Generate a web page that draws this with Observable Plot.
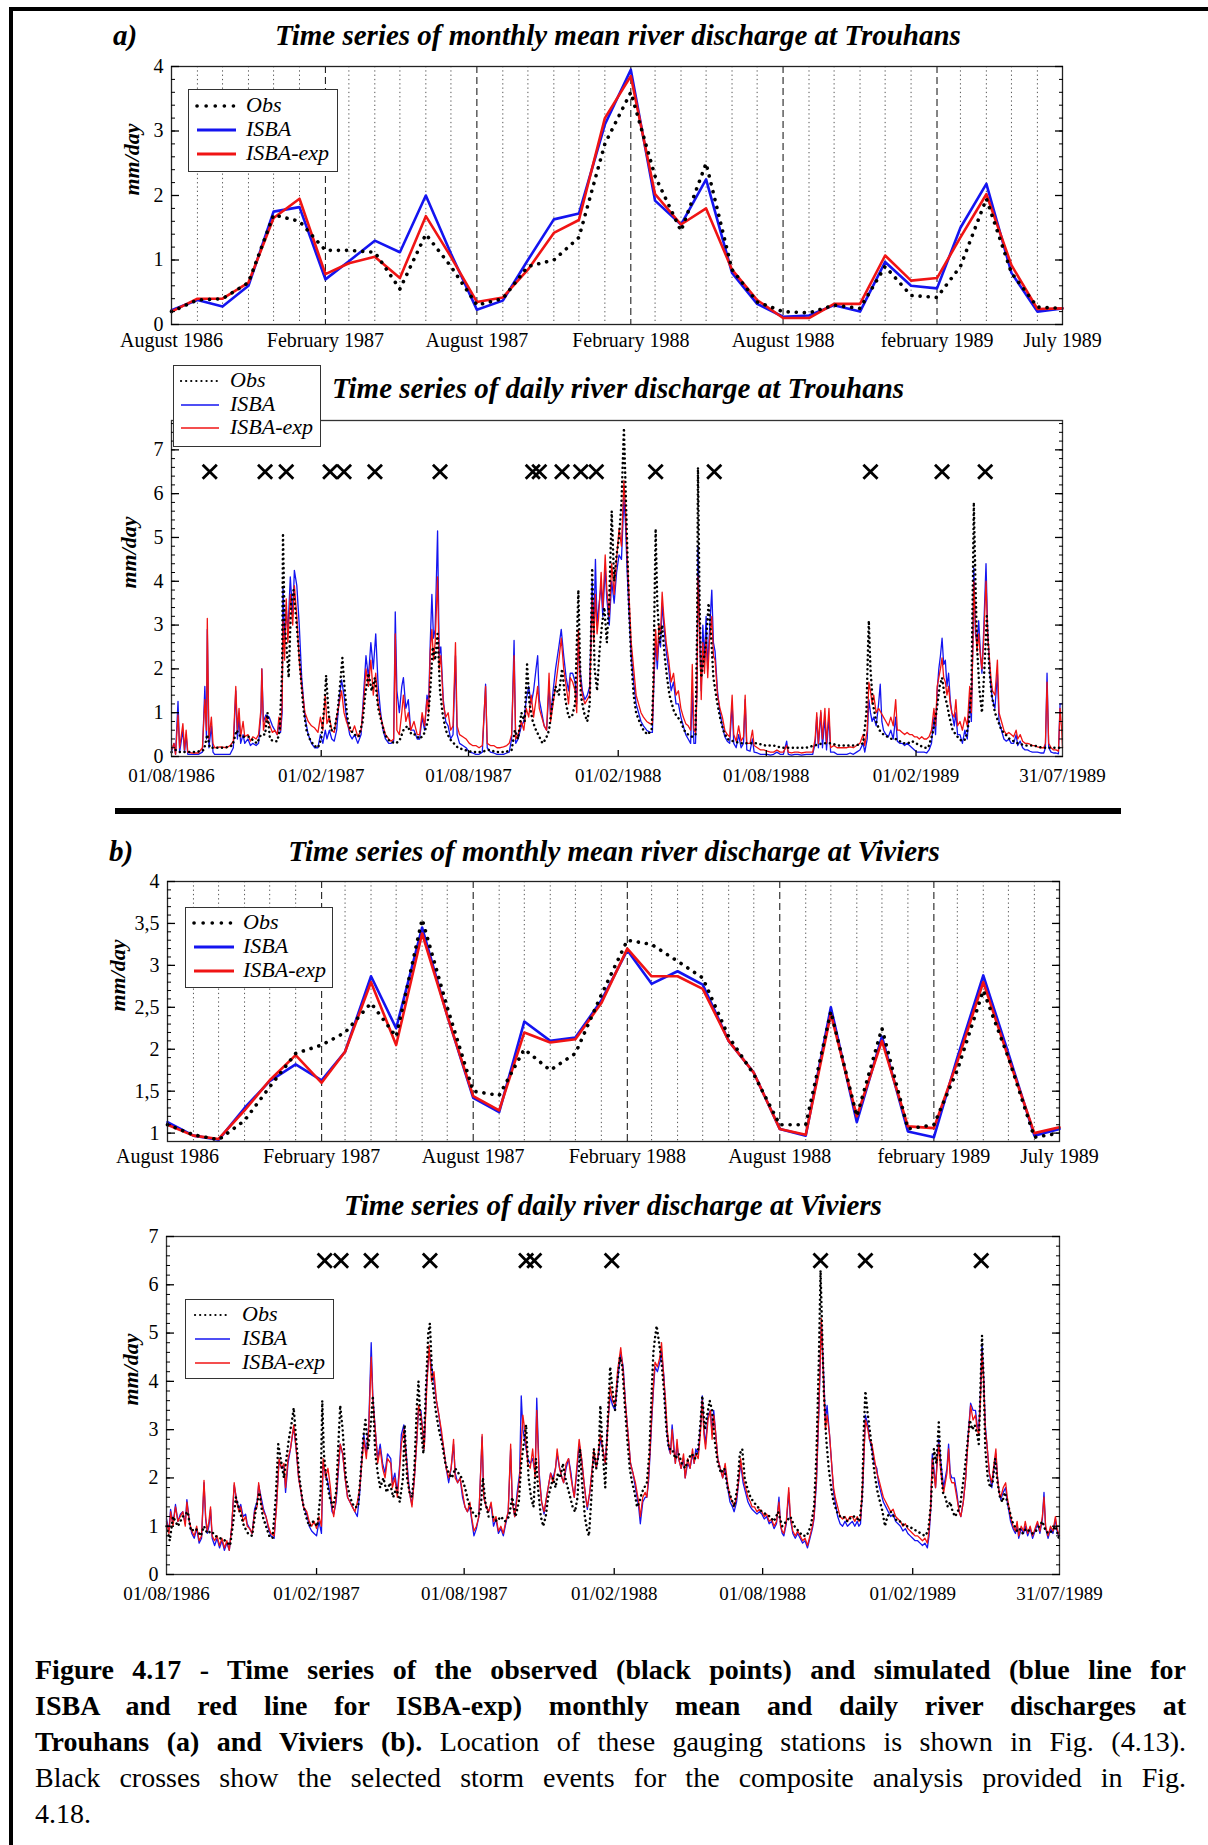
<!DOCTYPE html>
<html><head><meta charset="utf-8">
<script src="https://cdn.jsdelivr.net/npm/d3@7"></script>
<script src="https://cdn.jsdelivr.net/npm/@observablehq/plot@0.6"></script>
<style>
body{margin:0;background:#fff;}
#fig{position:relative;width:1208px;height:1845px;background:#fff;overflow:hidden;font-family:"Liberation Serif","Times New Roman",serif;color:#000;}
.abs{position:absolute;}
.title{position:absolute;font-weight:bold;font-style:italic;font-size:29px;white-space:nowrap;transform:translate(-50%,-50%);line-height:1;}
.lg{position:absolute;border:1.5px solid #333;background:#fff;box-sizing:border-box;}
.lg span{position:absolute;font-style:italic;font-size:22px;line-height:1;white-space:nowrap;}
.lg svg{position:absolute;}
#cap{position:absolute;left:35px;top:1652px;width:1151px;font-size:28px;line-height:36px;}
#cap div{text-align:justify;text-align-last:justify;white-space:nowrap;}
#cap div.last{text-align-last:left;}
</style></head>
<body><div id="fig"></div>
<script>
// ---------- DATA ----------
const monthLabels = ["August 1986","February 1987","August 1987","February 1988","August 1988","february 1989","July 1989"];
const monthLabelIdx = [0,6,12,18,24,30,35];
const dailyLabels = ["01/08/1986","01/02/1987","01/08/1987","01/02/1988","01/08/1988","01/02/1989","31/07/1989"];
const dailyLabelDates = ["1986-08-01","1987-02-01","1987-08-01","1988-02-01","1988-08-01","1989-02-01","1989-07-31"];

// Trouhans monthly (Aug 1986 .. Jul 1989)
const trouMonObs  = [0.2,0.38,0.4,0.65,1.7,1.6,1.15,1.15,1.12,0.55,1.4,0.9,0.3,0.4,0.9,1.0,1.35,2.8,3.6,2.3,1.45,2.5,0.85,0.35,0.2,0.18,0.3,0.25,0.9,0.45,0.42,0.9,1.95,0.8,0.27,0.25];
const trouMonIsba = [0.22,0.38,0.28,0.6,1.75,1.82,0.7,0.98,1.3,1.12,2.0,1.1,0.23,0.37,1.0,1.63,1.72,3.1,3.95,1.92,1.55,2.25,0.8,0.32,0.12,0.14,0.3,0.2,0.97,0.6,0.56,1.5,2.18,0.8,0.2,0.25];
const trouMonExp  = [0.2,0.4,0.4,0.65,1.65,1.95,0.78,0.95,1.05,0.72,1.68,1.05,0.35,0.42,0.85,1.42,1.62,3.2,3.85,2.02,1.55,1.8,0.85,0.38,0.1,0.1,0.32,0.32,1.07,0.68,0.72,1.35,2.02,0.92,0.24,0.25];

// Viviers monthly
const vivMonObs  = [1.1,0.98,0.92,1.15,1.55,1.95,2.05,2.2,2.55,2.15,3.55,2.5,1.5,1.45,2.0,1.75,1.95,2.65,3.3,3.25,3.05,2.85,2.15,1.7,1.1,1.1,2.45,1.2,2.25,1.05,1.1,1.75,2.7,1.9,0.95,1.0];
const vivMonIsba = [1.13,0.97,0.92,1.3,1.62,1.82,1.63,1.97,2.87,2.25,3.45,2.4,1.42,1.25,2.33,2.1,2.14,2.58,3.18,2.78,2.93,2.77,2.1,1.72,1.05,0.97,2.5,1.13,2.15,1.02,0.95,1.9,2.88,1.95,0.97,1.05];
const vivMonExp  = [1.1,0.97,0.93,1.27,1.63,1.93,1.6,1.97,2.8,2.05,3.38,2.4,1.44,1.27,2.2,2.08,2.12,2.55,3.2,2.87,2.87,2.72,2.1,1.72,1.05,0.98,2.42,1.2,2.1,1.08,1.06,1.85,2.8,1.9,1.0,1.07];

// Daily series: [day offset from 01/08/1986, mm/day]
const trouCrossDays = [47,115,141,195,212,250,330,444,452,480,503,522,595,667,859,947,1000];
const vivCrossDays  = [194,214,251,323,441,451,546,802,857,999];

const trouDayExp = [[0,0.15],[3,0.3],[5,0.05],[8,0.95],[10,0.2],[14,0.75],[16,0.15],[18,0.6],[20,0.1],[25,0.08],[33,0.08],[38,0.2],[41,1.3],[43,0.6],[44,3.15],[46,0.4],[49,0.9],[51,0.3],[53,0.2],[60,0.22],[68,0.2],[72,0.25],[76,0.35],[79,1.6],[81,0.6],[83,1.1],[85,0.45],[88,0.8],[90,0.45],[94,0.5],[97,0.35],[100,0.45],[104,0.4],[107,0.5],[110,1.1],[111,2.0],[113,0.6],[116,0.9],[120,0.75],[124,0.55],[127,0.6],[130,0.5],[132,0.9],[134,0.6],[136,1.2],[137,3.1],[139,2.2],[141,3.6],[143,2.6],[146,3.7],[149,3.0],[151,3.9],[154,3.2],[157,2.2],[160,1.6],[164,1.0],[168,0.8],[172,0.7],[176,0.65],[180,0.55],[183,0.9],[186,0.6],[189,1.4],[191,0.75],[194,0.9],[197,0.6],[200,0.55],[203,0.9],[206,1.2],[209,1.5],[212,1.0],[215,0.8],[219,0.6],[222,0.55],[225,0.7],[229,0.45],[233,0.6],[236,1.2],[239,2.0],[242,1.6],[245,2.2],[248,1.4],[251,1.9],[254,1.2],[257,0.9],[260,0.7],[263,0.5],[267,0.4],[270,0.35],[273,0.4],[275,2.8],[277,0.6],[280,0.5],[283,1.0],[285,1.4],[288,0.8],[291,1.0],[294,0.6],[298,0.8],[302,0.5],[305,0.5],[308,1.0],[311,0.7],[314,1.3],[316,1.0],[318,2.4],[320,2.9],[322,2.2],[324,2.6],[327,4.1],[329,2.0],[331,2.3],[334,1.2],[337,0.9],[340,1.0],[343,0.6],[346,0.7],[349,2.6],[351,0.7],[354,0.5],[358,0.45],[362,0.4],[366,0.3],[370,0.25],[374,0.25],[378,0.2],[382,0.25],[386,1.6],[388,0.3],[392,0.25],[396,0.25],[400,0.2],[404,0.2],[408,0.22],[412,0.25],[415,0.3],[418,0.5],[421,2.3],[423,0.4],[426,0.5],[430,0.8],[433,0.6],[436,1.1],[439,0.9],[442,1.4],[445,0.9],[448,1.3],[450,1.6],[452,1.1],[455,0.9],[458,0.7],[461,0.6],[464,1.9],[466,0.8],[469,1.2],[472,1.6],[476,2.2],[479,2.7],[482,2.0],[485,1.6],[488,1.2],[490,1.8],[493,1.7],[496,1.5],[498,1.0],[500,2.9],[502,1.8],[505,1.4],[508,1.2],[511,1.3],[514,1.4],[517,3.6],[519,2.6],[521,3.7],[523,2.8],[525,3.2],[528,4.2],[530,3.4],[533,4.6],[535,3.8],[538,3.2],[541,4.4],[544,3.7],[547,4.5],[550,5.2],[553,4.8],[556,6.3],[558,5.6],[560,4.6],[562,3.8],[565,2.6],[568,2.0],[571,1.4],[574,1.2],[577,1.0],[580,0.9],[584,0.8],[588,0.75],[591,0.75],[593,2.0],[595,2.9],[597,2.2],[599,3.0],[601,2.8],[603,3.75],[605,3.2],[608,2.6],[611,2.2],[614,1.7],[617,1.9],[620,1.4],[623,1.5],[626,1.1],[629,0.9],[632,0.75],[635,0.7],[638,0.6],[640,2.1],[642,0.6],[644,0.55],[646,1.5],[647,4.1],[649,3.0],[651,1.3],[653,2.6],[655,1.9],[657,2.7],[659,1.8],[661,2.6],[664,3.2],[666,2.3],[668,2.2],[671,1.4],[674,1.1],[677,0.9],[680,0.6],[683,0.5],[686,0.45],[689,1.4],[691,0.5],[694,0.35],[697,0.7],[700,0.35],[703,0.45],[705,1.4],[707,0.3],[711,0.3],[714,0.6],[716,0.25],[720,0.2],[724,0.15],[728,0.15],[732,0.12],[736,0.1],[740,0.1],[744,0.15],[748,0.1],[752,0.1],[756,0.25],[758,0.1],[762,0.08],[766,0.1],[770,0.1],[774,0.08],[780,0.1],[784,0.1],[788,0.1],[791,0.4],[793,1.0],[795,0.3],[798,1.05],[800,0.4],[803,1.1],[805,0.3],[808,1.1],[810,0.2],[814,0.25],[818,0.2],[822,0.2],[826,0.2],[830,0.2],[834,0.22],[838,0.2],[842,0.25],[846,0.3],[850,0.5],[852,0.25],[855,0.6],[857,1.7],[859,1.5],[861,1.2],[863,1.4],[866,1.0],[869,1.1],[872,1.0],[875,0.9],[878,0.8],[881,0.7],[884,0.9],[887,0.7],[890,1.3],[892,0.6],[895,0.6],[898,0.55],[901,0.5],[904,0.55],[907,0.5],[910,0.5],[913,0.45],[916,0.45],[919,0.4],[922,0.45],[925,0.4],[928,0.4],[931,0.45],[934,0.6],[937,1.1],[939,0.7],[941,1.6],[943,1.8],[945,2.0],[947,2.25],[949,1.8],[951,1.7],[953,1.4],[955,1.6],[957,1.2],[959,1.0],[962,0.9],[964,1.3],[966,0.7],[969,0.8],[972,0.6],[975,0.9],[978,0.7],[981,1.6],[983,1.0],[985,2.6],[986,4.0],[988,3.0],[990,2.4],[992,2.8],[994,2.3],[996,2.0],[998,2.6],[1001,4.0],[1003,2.8],[1005,2.3],[1007,1.8],[1009,1.5],[1012,1.4],[1015,2.2],[1017,1.0],[1020,0.8],[1023,0.6],[1026,0.5],[1029,0.55],[1032,0.5],[1035,0.45],[1038,0.6],[1040,0.4],[1043,0.5],[1046,0.35],[1049,0.3],[1052,0.3],[1055,0.28],[1058,0.25],[1061,0.25],[1064,0.22],[1068,0.2],[1072,0.2],[1074,0.3],[1076,1.7],[1078,0.3],[1081,0.2],[1084,0.15],[1087,0.15],[1090,0.12],[1092,1.1],[1094,0.6],[1095,0.2]];

const trouDayIsba = [[0,0.1],[3,0.3],[5,0.05],[8,1.26],[10,0.1],[14,0.6],[16,0.1],[18,0.5],[20,0.05],[25,0.05],[33,0.05],[38,0.1],[41,1.6],[43,0.4],[44,2.9],[46,0.2],[49,0.7],[51,0.1],[53,0.05],[60,0.05],[68,0.05],[72,0.05],[76,0.2],[79,1.5],[81,0.4],[83,0.9],[85,0.3],[88,0.5],[90,0.3],[94,0.4],[97,0.25],[100,0.3],[104,0.25],[107,0.3],[110,1.0],[111,2.0],[113,0.8],[116,0.95],[120,0.9],[124,0.7],[127,0.6],[130,0.5],[132,0.75],[134,0.55],[136,1.0],[137,3.85],[139,2.6],[141,3.4],[143,2.8],[146,4.1],[149,3.2],[151,4.25],[154,3.9],[157,3.0],[160,1.8],[164,0.9],[168,0.5],[172,0.3],[176,0.2],[180,0.2],[183,0.5],[186,0.3],[189,0.6],[191,0.4],[194,0.6],[197,0.4],[200,0.35],[203,0.6],[206,1.3],[209,1.75],[212,1.4],[215,0.9],[219,0.5],[222,0.4],[225,0.5],[229,0.3],[233,0.5],[236,1.4],[239,2.3],[242,1.8],[245,2.6],[248,2.0],[251,2.8],[254,1.6],[257,1.0],[260,0.6],[263,0.4],[267,0.3],[270,0.3],[273,0.35],[275,3.3],[277,1.5],[280,1.0],[283,1.6],[285,1.8],[288,1.1],[291,1.3],[294,0.6],[298,0.6],[302,0.4],[305,0.4],[308,0.9],[311,0.6],[314,1.4],[316,1.2],[318,2.6],[320,3.7],[322,2.7],[324,2.9],[327,5.15],[329,2.3],[331,2.5],[334,1.3],[337,0.8],[340,0.7],[343,0.4],[346,0.5],[349,2.3],[351,0.5],[354,0.3],[358,0.25],[362,0.2],[366,0.1],[370,0.08],[374,0.05],[378,0.05],[382,0.1],[386,1.65],[388,0.2],[392,0.1],[396,0.08],[400,0.05],[404,0.05],[408,0.05],[412,0.08],[415,0.1],[418,0.4],[421,2.65],[423,0.3],[426,0.4],[430,0.7],[433,0.8],[436,1.3],[439,1.6],[442,1.2],[445,1.5],[448,2.0],[450,2.3],[452,1.3],[455,1.0],[458,0.7],[461,0.6],[464,1.6],[466,0.9],[469,1.5],[472,2.0],[476,2.5],[479,2.9],[482,2.3],[485,1.8],[488,1.5],[490,1.9],[493,1.9],[496,1.7],[498,1.2],[500,2.6],[502,2.0],[505,1.5],[508,1.3],[511,1.4],[514,1.6],[517,4.0],[519,2.8],[521,4.5],[523,3.0],[525,3.4],[528,3.9],[530,3.2],[533,4.3],[535,3.6],[538,3.0],[541,4.0],[544,3.5],[547,4.2],[550,4.6],[553,4.5],[556,5.9],[558,5.3],[560,4.2],[562,3.4],[565,2.3],[568,1.7],[571,1.2],[574,1.0],[577,0.8],[580,0.7],[584,0.6],[588,0.55],[591,0.55],[593,1.8],[595,2.6],[597,2.0],[599,2.7],[601,2.5],[603,3.5],[605,3.0],[608,2.4],[611,2.0],[614,1.5],[617,1.7],[620,1.2],[623,1.2],[626,0.9],[629,0.7],[632,0.5],[635,0.4],[638,0.3],[640,1.5],[642,0.3],[644,0.3],[646,1.8],[647,4.8],[649,2.8],[651,1.5],[653,3.0],[655,2.2],[657,3.2],[659,2.0],[661,2.8],[664,3.8],[666,2.6],[668,2.4],[671,1.5],[674,1.0],[677,0.7],[680,0.45],[683,0.35],[686,0.3],[689,1.2],[691,0.3],[694,0.2],[697,0.5],[700,0.2],[703,0.3],[705,1.3],[707,0.15],[711,0.12],[714,0.4],[716,0.1],[720,0.08],[724,0.05],[728,0.05],[732,0.05],[736,0.03],[740,0.05],[744,0.1],[748,0.05],[752,0.05],[756,0.35],[758,0.05],[762,0.03],[766,0.05],[770,0.05],[774,0.03],[780,0.05],[784,0.05],[788,0.05],[791,0.3],[793,0.9],[795,0.2],[798,1.0],[800,0.2],[803,0.9],[805,0.15],[808,0.9],[810,0.1],[814,0.1],[818,0.05],[822,0.05],[826,0.05],[830,0.05],[834,0.08],[838,0.05],[842,0.1],[846,0.15],[850,0.3],[852,0.1],[855,0.4],[857,1.3],[859,1.0],[861,0.8],[863,0.9],[866,0.7],[869,1.2],[871,1.65],[873,0.8],[875,0.6],[878,0.5],[881,0.45],[884,0.6],[887,0.4],[890,0.9],[892,0.35],[895,0.3],[898,0.3],[901,0.25],[904,0.3],[907,0.25],[910,0.2],[913,0.15],[916,0.1],[919,0.1],[922,0.1],[925,0.1],[928,0.08],[931,0.15],[934,0.3],[937,0.9],[939,0.5],[941,1.5],[943,2.0],[945,2.3],[947,2.7],[949,2.1],[951,2.2],[953,1.6],[955,1.9],[957,1.3],[959,1.0],[962,0.7],[964,1.0],[966,0.5],[969,0.5],[972,0.3],[975,0.6],[978,0.4],[981,1.3],[983,0.8],[985,2.8],[986,4.3],[988,2.8],[990,2.6],[992,3.1],[994,2.4],[996,1.9],[998,2.8],[1001,4.4],[1003,2.9],[1005,2.2],[1007,1.6],[1009,1.3],[1012,1.1],[1015,1.9],[1017,0.8],[1020,0.6],[1023,0.4],[1026,0.35],[1029,0.4],[1032,0.3],[1035,0.3],[1038,0.5],[1040,0.25],[1043,0.35],[1046,0.2],[1049,0.15],[1052,0.15],[1055,0.12],[1058,0.1],[1061,0.1],[1064,0.1],[1068,0.08],[1072,0.08],[1074,0.2],[1076,1.9],[1078,0.2],[1081,0.1],[1084,0.08],[1087,0.08],[1090,0.06],[1092,1.2],[1094,1.2],[1095,1.2]];

const trouDayObs = [[0,0.1],[5,0.15],[10,0.1],[20,0.1],[30,0.1],[40,0.15],[44,0.5],[47,0.2],[55,0.2],[65,0.2],[75,0.25],[80,0.6],[85,0.45],[95,0.45],[105,0.3],[110,0.5],[115,0.5],[118,1.0],[121,0.4],[125,0.35],[130,0.35],[133,0.6],[136,2.0],[137,5.1],[139,3.0],[141,2.6],[144,1.8],[147,3.5],[150,3.8],[153,3.2],[156,2.5],[159,1.8],[162,1.1],[166,0.6],[170,0.4],[175,0.25],[180,0.2],[184,0.4],[188,1.2],[190,1.85],[193,1.0],[196,0.6],[200,0.6],[204,1.0],[207,1.6],[210,2.25],[213,1.5],[216,0.9],[220,0.6],[225,0.5],[230,0.45],[235,0.8],[238,1.4],[242,1.9],[246,1.5],[250,1.8],[254,1.1],[258,0.8],[262,0.5],[268,0.35],[275,0.3],[280,0.35],[285,0.6],[290,0.7],[295,0.5],[300,0.5],[305,0.4],[310,0.5],[315,0.8],[318,1.5],[321,2.5],[324,2.2],[327,2.8],[330,1.5],[333,1.0],[337,0.6],[342,0.4],[347,0.3],[352,0.2],[360,0.15],[370,0.1],[380,0.1],[390,0.15],[400,0.1],[410,0.1],[418,0.15],[422,0.6],[426,0.4],[430,1.0],[434,0.8],[437,2.1],[440,1.2],[444,0.8],[448,0.6],[452,0.45],[456,0.3],[460,0.4],[464,0.6],[468,1.2],[472,1.6],[476,1.4],[480,2.0],[484,1.3],[488,0.9],[492,0.9],[496,1.2],[500,3.8],[503,1.4],[507,1.0],[511,0.8],[514,1.2],[517,4.3],[520,2.0],[523,1.5],[526,2.4],[529,3.0],[532,3.4],[535,2.6],[538,3.6],[541,5.6],[544,4.0],[547,4.6],[550,5.0],[553,5.8],[556,7.5],[559,5.5],[562,3.5],[565,2.2],[568,1.4],[571,1.0],[575,0.8],[580,0.6],[585,0.5],[590,0.6],[592,1.5],[594,4.0],[595,5.2],[597,3.5],[600,2.6],[603,3.0],[606,2.3],[609,1.8],[612,1.4],[615,1.2],[618,1.0],[622,0.9],[626,0.8],[630,0.6],[635,0.5],[640,0.45],[644,0.5],[646,3.0],[647,6.6],[649,3.5],[651,1.8],[654,2.2],[657,2.6],[660,3.5],[663,2.8],[666,1.8],[670,1.3],[674,0.9],[678,0.6],[683,0.4],[690,0.35],[700,0.3],[710,0.3],[720,0.3],[730,0.25],[740,0.25],[750,0.2],[760,0.2],[770,0.2],[780,0.2],[790,0.25],[800,0.3],[810,0.3],[820,0.25],[830,0.25],[840,0.25],[850,0.3],[854,1.0],[856,2.5],[857,3.1],[859,2.0],[862,1.2],[866,0.8],[870,0.6],[875,0.5],[880,0.45],[885,0.4],[890,0.4],[895,0.35],[900,0.3],[905,0.3],[910,0.35],[915,0.3],[920,0.25],[925,0.2],[930,0.2],[935,0.5],[940,1.0],[944,1.6],[947,1.8],[950,1.4],[953,1.2],[956,0.9],[960,0.6],[964,0.5],[968,0.4],[972,0.35],[976,0.4],[980,0.8],[983,1.5],[985,4.2],[986,5.8],[988,4.0],[990,2.5],[993,1.5],[996,1.0],[999,2.0],[1002,3.2],[1005,2.0],[1008,1.4],[1012,1.0],[1016,0.8],[1020,0.6],[1025,0.5],[1030,0.4],[1035,0.35],[1040,0.3],[1050,0.25],[1060,0.25],[1070,0.2],[1080,0.2],[1090,0.2],[1095,0.2]];

const vivDayExp = [[0,1.1],[3,0.85],[5,1.3],[8,1.0],[11,1.4],[14,1.1],[17,1.2],[20,1.3],[23,1.0],[25,1.5],[28,1.1],[31,0.9],[34,0.8],[37,1.0],[40,0.7],[43,0.8],[46,1.95],[48,1.2],[50,0.9],[52,1.1],[54,1.4],[56,0.8],[59,0.7],[62,0.8],[65,0.6],[68,0.75],[71,0.55],[74,0.7],[77,0.5],[80,1.0],[83,1.9],[86,1.5],[89,1.3],[91,1.4],[94,1.1],[97,1.2],[99,1.0],[102,0.95],[105,0.85],[108,1.3],[111,1.4],[113,1.9],[116,1.5],[119,1.3],[122,1.2],[125,1.0],[128,0.85],[132,0.8],[135,1.4],[138,2.4],[141,2.2],[144,2.3],[146,1.8],[149,2.4],[152,2.6],[156,3.1],[159,2.6],[162,2.0],[165,1.7],[168,1.4],[172,1.3],[175,1.1],[178,1.0],[181,1.1],[184,0.95],[187,1.2],[190,1.0],[192,2.4],[195,2.0],[198,2.2],[201,1.8],[203,1.4],[205,1.2],[208,1.6],[211,2.3],[213,2.7],[216,2.5],[219,2.0],[222,1.6],[225,1.5],[228,1.4],[231,1.3],[234,1.5],[237,1.8],[239,2.2],[242,2.8],[245,2.4],[248,3.0],[251,4.5],[253,3.6],[256,3.0],[259,2.3],[262,2.6],[265,2.2],[268,2.0],[271,2.4],[275,2.3],[277,1.8],[280,2.0],[283,1.6],[286,2.2],[288,2.7],[291,3.0],[294,2.4],[297,1.8],[299,1.6],[301,1.4],[304,2.0],[307,2.8],[309,3.5],[312,3.3],[314,3.0],[316,2.6],[319,3.8],[322,4.75],[325,4.0],[328,4.2],[331,3.6],[334,3.3],[337,3.0],[340,2.6],[343,2.2],[346,2.0],[349,2.2],[352,2.8],[354,2.0],[357,1.9],[360,2.0],[363,1.7],[366,1.4],[369,1.3],[372,1.5],[374,1.2],[377,0.9],[380,1.0],[383,1.2],[387,2.9],[389,1.6],[392,1.4],[395,1.3],[398,1.5],[401,1.1],[404,1.2],[407,0.9],[410,1.0],[413,0.85],[416,1.1],[419,1.3],[422,2.7],[424,1.5],[427,1.2],[430,1.6],[433,2.0],[435,2.7],[437,3.3],[440,2.9],[443,2.3],[446,2.2],[449,2.6],[452,2.0],[454,3.4],[457,2.0],[460,1.5],[463,1.3],[466,1.6],[469,1.9],[471,2.1],[474,1.9],[477,2.2],[479,2.6],[482,2.2],[485,2.0],[487,1.9],[490,2.3],[493,2.4],[496,2.0],[498,1.8],[500,1.6],[503,2.2],[506,2.8],[509,2.4],[512,1.9],[514,1.6],[516,1.4],[519,1.7],[522,2.2],[524,2.6],[527,2.2],[530,2.6],[532,2.9],[535,2.6],[538,2.3],[541,3.0],[544,3.9],[547,3.6],[550,3.5],[553,4.2],[557,4.7],[560,4.2],[563,3.5],[566,2.9],[569,2.3],[572,2.1],[575,1.9],[577,1.7],[579,1.5],[581,1.2],[584,1.6],[587,1.7],[589,1.6],[591,2.0],[593,2.6],[595,3.3],[597,3.9],[599,4.4],[602,4.3],[605,4.5],[607,4.8],[610,4.0],[612,3.6],[614,3.0],[616,2.7],[618,2.5],[620,3.0],[622,2.6],[624,2.3],[626,2.8],[628,2.4],[631,2.2],[634,2.5],[636,2.0],[639,2.4],[642,2.2],[645,2.6],[647,2.3],[649,2.5],[652,2.4],[655,3.0],[657,3.6],[659,2.9],[661,2.6],[664,3.2],[667,3.4],[669,2.8],[671,3.3],[673,3.0],[676,2.4],[679,2.2],[682,2.0],[685,2.3],[688,1.9],[691,1.6],[694,1.5],[696,1.4],[699,1.6],[702,2.0],[704,2.4],[707,2.0],[710,1.8],[713,1.6],[716,1.5],[718,1.4],[721,1.4],[724,1.3],[727,1.35],[730,1.3],[733,1.2],[736,1.25],[739,1.1],[742,1.15],[745,1.0],[748,1.1],[751,1.5],[753,1.0],[755,0.9],[757,0.85],[760,1.1],[763,1.8],[765,1.2],[768,0.9],[771,0.8],[774,0.9],[777,0.8],[780,0.7],[783,0.75],[786,0.6],[789,0.8],[792,1.0],[794,1.2],[797,2.0],[800,3.5],[803,5.3],[805,4.3],[808,3.0],[810,3.3],[813,2.9],[816,2.2],[818,1.8],[820,1.6],[823,1.4],[826,1.2],[829,1.15],[832,1.2],[835,1.1],[838,1.2],[841,1.2],[844,1.1],[847,1.2],[849,1.1],[851,1.15],[854,2.0],[857,3.2],[860,3.0],[862,2.8],[865,2.7],[868,2.4],[871,2.1],[873,2.0],[876,1.8],[879,1.6],[882,1.5],[885,1.4],[888,1.3],[891,1.35],[894,1.2],[897,1.15],[900,1.1],[903,1.0],[906,1.05],[909,0.95],[912,0.9],[915,0.85],[918,0.8],[921,0.8],[924,0.75],[927,0.7],[930,0.75],[933,0.65],[935,0.9],[937,1.4],[939,2.4],[941,2.1],[943,1.8],[945,2.3],[947,2.7],[949,2.2],[951,1.9],[953,1.7],[955,1.9],[957,2.1],[959,2.6],[961,2.0],[963,1.9],[966,1.9],[969,1.6],[972,1.3],[974,1.2],[977,1.5],[980,2.0],[983,2.8],[986,3.5],[989,3.2],[992,3.3],[994,3.0],[996,2.9],[998,3.6],[1000,4.6],[1002,4.0],[1004,3.0],[1006,2.7],[1009,2.1],[1012,1.9],[1014,2.2],[1017,2.6],[1019,2.0],[1021,1.7],[1023,1.6],[1026,1.8],[1029,1.9],[1031,1.6],[1033,1.4],[1035,1.2],[1038,1.0],[1041,0.9],[1043,1.1],[1045,0.8],[1048,1.0],[1051,0.9],[1053,1.1],[1056,0.85],[1059,1.0],[1062,0.8],[1065,0.95],[1068,1.1],[1071,0.9],[1074,1.2],[1076,1.6],[1078,1.0],[1081,0.8],[1084,1.0],[1087,0.9],[1090,1.2],[1092,0.95],[1095,0.8]];

const vivDayIsba = [[0,1.15],[3,0.9],[5,1.35],[8,1.05],[11,1.45],[14,1.1],[17,1.25],[20,1.3],[23,1.05],[25,1.55],[28,1.1],[31,0.85],[34,0.75],[37,0.95],[40,0.65],[43,0.75],[46,1.9],[48,1.15],[50,0.85],[52,1.0],[54,1.35],[56,0.75],[59,0.6],[62,0.75],[65,0.55],[68,0.7],[71,0.5],[74,0.65],[77,0.5],[80,1.0],[83,1.85],[86,1.55],[89,1.35],[91,1.45],[94,1.2],[97,1.25],[99,1.05],[102,0.95],[105,0.85],[108,1.35],[111,1.5],[113,1.85],[116,1.6],[119,1.35],[122,1.2],[125,0.95],[128,0.8],[132,0.75],[135,1.5],[138,2.35],[141,2.2],[144,2.25],[146,1.7],[149,2.3],[152,2.6],[156,3.05],[159,2.6],[162,2.0],[165,1.7],[168,1.4],[172,1.25],[175,1.0],[178,0.9],[181,0.85],[184,0.8],[187,1.1],[190,0.85],[192,2.3],[195,2.1],[198,1.9],[201,1.6],[203,1.3],[205,1.25],[208,1.5],[211,2.2],[213,2.7],[216,2.5],[219,2.0],[222,1.6],[225,1.5],[228,1.4],[231,1.3],[234,1.2],[237,1.7],[239,2.3],[242,2.9],[245,2.5],[248,3.1],[251,4.8],[253,3.7],[256,3.0],[259,2.4],[262,2.7],[265,2.3],[268,2.1],[271,2.5],[275,2.4],[277,1.9],[280,2.1],[283,1.7],[286,2.3],[288,2.9],[291,3.1],[294,2.5],[297,1.9],[299,1.6],[301,1.45],[304,2.0],[307,2.8],[309,3.4],[312,3.4],[314,3.0],[316,2.6],[319,4.0],[322,4.6],[325,4.3],[328,4.0],[331,3.6],[334,3.3],[337,2.9],[340,2.6],[343,2.2],[346,1.9],[349,2.2],[352,2.7],[354,2.1],[357,1.9],[360,2.0],[363,1.6],[366,1.4],[369,1.3],[372,1.4],[374,1.15],[377,0.8],[380,0.95],[383,1.2],[387,2.85],[389,1.6],[392,1.4],[395,1.3],[398,1.45],[401,1.0],[404,1.15],[407,0.85],[410,0.95],[413,0.8],[416,1.05],[419,1.3],[422,2.6],[424,1.5],[427,1.2],[430,1.7],[433,2.1],[435,3.7],[437,3.0],[440,2.7],[443,2.4],[446,2.3],[449,2.4],[452,2.1],[454,3.65],[457,2.1],[460,1.5],[463,1.25],[466,1.6],[469,1.9],[471,2.1],[474,2.0],[477,2.2],[479,2.5],[482,2.2],[485,2.0],[487,1.9],[490,2.2],[493,2.4],[496,2.1],[498,1.8],[500,1.6],[503,2.1],[506,2.7],[509,2.4],[512,1.9],[514,1.6],[516,1.35],[519,1.7],[522,2.2],[524,2.5],[527,2.2],[530,2.5],[532,2.8],[535,2.6],[538,2.3],[541,3.1],[544,3.7],[547,3.5],[550,3.4],[553,4.0],[557,4.6],[560,4.3],[563,3.5],[566,2.9],[569,2.3],[572,2.1],[575,1.8],[577,1.6],[579,1.4],[581,1.05],[584,1.5],[587,1.6],[589,1.6],[591,1.9],[593,2.5],[595,3.2],[597,3.8],[599,4.3],[602,4.2],[605,4.4],[607,4.6],[610,4.1],[612,3.4],[614,2.9],[616,2.6],[618,2.5],[620,3.1],[622,2.7],[624,2.3],[626,2.7],[628,2.4],[631,2.2],[634,2.4],[636,2.0],[639,2.3],[642,2.2],[645,2.5],[647,2.3],[649,2.6],[652,2.5],[655,3.1],[657,3.7],[659,3.0],[661,2.7],[664,3.3],[667,3.4],[669,2.9],[671,3.4],[673,3.0],[676,2.4],[679,2.2],[682,2.0],[685,2.2],[688,1.8],[691,1.5],[694,1.4],[696,1.3],[699,1.5],[702,2.0],[704,2.3],[707,1.9],[710,1.7],[713,1.5],[716,1.4],[718,1.35],[721,1.3],[724,1.25],[727,1.3],[730,1.25],[733,1.15],[736,1.2],[739,1.05],[742,1.1],[745,0.95],[748,1.05],[751,1.6],[753,1.0],[755,0.85],[757,0.8],[760,1.05],[763,1.7],[765,1.15],[768,0.85],[771,0.75],[774,0.85],[777,0.75],[780,0.65],[783,0.7],[786,0.55],[789,0.75],[792,0.95],[794,1.15],[797,1.9],[800,3.4],[803,5.2],[805,4.5],[808,3.2],[810,3.5],[813,2.9],[816,2.2],[818,1.7],[820,1.5],[823,1.2],[826,1.05],[829,1.0],[832,1.1],[835,1.0],[838,1.05],[841,1.1],[844,1.0],[847,1.1],[849,1.0],[851,1.05],[854,1.9],[857,3.3],[860,3.1],[862,2.8],[865,2.6],[868,2.3],[871,2.2],[873,1.9],[876,1.7],[879,1.5],[882,1.4],[885,1.3],[888,1.2],[891,1.25],[894,1.1],[897,1.05],[900,1.0],[903,0.9],[906,0.95],[909,0.85],[912,0.8],[915,0.75],[918,0.7],[921,0.7],[924,0.65],[927,0.6],[930,0.65],[933,0.55],[935,0.8],[937,1.3],[939,2.5],[941,2.2],[943,1.8],[945,2.4],[947,2.8],[949,2.4],[951,2.1],[953,1.8],[955,2.0],[957,2.2],[959,2.7],[961,2.1],[963,2.0],[966,2.0],[969,1.7],[972,1.3],[974,1.2],[977,1.5],[980,2.0],[983,2.9],[986,3.55],[989,3.4],[992,3.4],[994,3.1],[996,3.0],[998,3.7],[1000,4.75],[1002,4.1],[1004,3.1],[1006,2.7],[1009,2.1],[1012,1.8],[1014,2.1],[1017,2.5],[1019,2.0],[1021,1.7],[1023,1.55],[1026,1.7],[1029,1.8],[1031,1.5],[1033,1.3],[1035,1.1],[1038,0.95],[1041,0.85],[1043,1.05],[1045,0.75],[1048,0.95],[1051,0.85],[1053,1.0],[1056,0.8],[1059,0.95],[1062,0.75],[1065,0.9],[1068,1.05],[1071,0.85],[1074,1.15],[1076,1.7],[1078,0.95],[1081,0.75],[1084,0.95],[1087,0.85],[1090,1.15],[1092,0.9],[1095,0.75]];

const vivDayObs = [[0,1.0],[4,0.7],[8,1.2],[14,1.0],[20,1.2],[26,1.3],[30,0.9],[36,0.95],[42,0.8],[46,1.0],[50,0.85],[55,0.9],[60,0.8],[66,0.75],[72,0.7],[78,0.6],[82,1.1],[85,1.6],[90,1.3],[95,1.0],[100,0.85],[105,0.8],[110,1.4],[114,1.7],[118,1.2],[122,1.0],[126,0.8],[130,0.75],[134,1.6],[137,2.7],[140,2.4],[144,2.0],[150,2.8],[154,3.2],[156,3.45],[159,2.8],[163,2.0],[167,1.5],[171,1.2],[175,1.0],[180,1.1],[185,1.0],[189,1.7],[191,3.6],[193,2.5],[196,2.0],[200,1.6],[204,1.4],[208,1.7],[211,2.8],[213,3.5],[216,3.0],[220,2.0],[225,1.6],[230,1.4],[235,1.4],[239,2.3],[241,2.8],[244,3.2],[247,2.6],[250,3.0],[253,3.7],[256,2.5],[259,2.1],[262,1.8],[266,2.0],[270,1.7],[274,1.9],[278,1.6],[282,1.8],[286,1.5],[290,2.0],[292,3.1],[295,2.0],[298,1.7],[301,1.6],[304,2.2],[307,3.5],[309,4.0],[312,3.0],[315,2.5],[318,3.8],[321,5.0],[323,5.2],[326,4.0],[330,3.4],[334,3.0],[338,2.7],[342,2.3],[346,2.1],[350,2.0],[354,2.2],[358,2.1],[362,2.0],[366,1.8],[370,1.5],[375,1.3],[380,1.2],[385,1.3],[388,2.0],[391,1.5],[395,1.2],[400,1.2],[405,1.1],[410,1.2],[415,1.1],[420,1.2],[424,1.6],[428,1.2],[432,1.5],[435,2.3],[438,2.7],[441,3.1],[444,2.0],[447,1.6],[450,1.4],[453,2.4],[456,1.7],[459,1.2],[462,1.0],[465,1.2],[468,1.6],[471,1.8],[474,2.0],[477,1.8],[480,2.1],[483,2.0],[486,2.3],[489,2.0],[492,1.8],[495,1.6],[498,1.4],[501,1.3],[504,1.6],[507,2.6],[510,1.8],[513,1.2],[516,0.9],[518,0.8],[521,1.6],[524,2.6],[527,2.2],[530,2.5],[532,3.5],[535,2.5],[538,1.8],[541,3.2],[544,4.3],[547,3.8],[550,3.4],[553,4.0],[556,4.5],[559,4.3],[562,3.5],[565,2.8],[568,2.2],[571,1.9],[574,1.7],[577,1.4],[580,1.5],[583,1.7],[586,1.8],[589,1.9],[592,2.5],[595,3.8],[597,4.6],[599,4.9],[601,5.15],[604,4.8],[607,4.4],[610,3.8],[613,3.0],[616,2.6],[620,2.6],[624,2.4],[628,2.5],[632,2.3],[636,2.2],[640,2.4],[644,2.5],[648,2.4],[652,2.6],[655,3.2],[657,3.7],[660,3.0],[663,3.3],[666,3.6],[669,3.4],[672,2.8],[676,2.3],[680,2.1],[684,2.2],[688,1.8],[692,1.6],[696,1.4],[700,1.8],[703,2.5],[706,2.6],[709,2.0],[712,1.8],[716,1.6],[720,1.5],[725,1.4],[730,1.3],[735,1.25],[740,1.2],[745,1.1],[750,1.3],[755,1.0],[760,1.1],[765,1.2],[770,1.0],[775,0.9],[780,0.8],[785,0.8],[790,1.0],[794,1.4],[797,2.5],[800,4.5],[802,6.3],[804,5.0],[806,3.8],[809,2.8],[812,2.2],[815,1.8],[818,1.5],[822,1.3],[826,1.2],[830,1.2],[835,1.1],[840,1.2],[845,1.2],[850,1.1],[853,1.6],[855,3.0],[857,3.8],[860,3.3],[863,2.9],[866,2.4],[869,2.0],[872,1.7],[875,1.5],[878,1.3],[881,1.0],[884,1.2],[888,1.3],[892,1.2],[896,1.1],[900,1.1],[905,1.0],[910,1.0],[915,0.95],[920,0.9],[925,0.85],[930,0.8],[934,0.9],[937,1.4],[939,2.0],[941,2.6],[944,2.3],[947,3.15],[949,2.4],[952,1.7],[955,1.6],[958,1.4],[961,1.5],[964,1.3],[967,1.2],[970,1.3],[973,1.4],[976,1.8],[979,2.2],[982,2.7],[985,3.2],[988,3.0],[991,3.1],[994,2.9],[996,2.7],[998,3.8],[1000,4.95],[1002,4.0],[1004,2.6],[1007,2.0],[1010,1.8],[1013,1.9],[1016,2.4],[1019,1.9],[1022,1.6],[1025,1.5],[1028,1.7],[1031,1.5],[1034,1.3],[1037,1.1],[1040,1.0],[1043,0.9],[1046,0.95],[1050,0.85],[1054,0.95],[1058,0.9],[1062,0.85],[1066,0.9],[1070,1.0],[1074,1.1],[1078,0.9],[1082,0.85],[1086,0.9],[1090,1.0],[1095,0.7]];

// ---------- RENDER ----------
const BLUE = "#1414f0", RED = "#f01414";
const fig = document.getElementById("fig");
const style = {fontFamily: "Liberation Serif, serif", fontSize: "19px", color: "#000", background: "transparent", overflow: "visible"};

function place(el, top) { el.style.position = "absolute"; el.style.left = "0px"; el.style.top = top + "px"; fig.appendChild(el); }

function yAxes(majors, minors, fmt) {
  return [
    Plot.axisY({anchor: "left", ticks: majors, tickSize: 0, tickPadding: 8, tickFormat: fmt, label: null, fontSize: 20}),
    Plot.axisY({anchor: "left", ticks: majors, tickSize: -8, tickFormat: () => "", label: null, strokeWidth: 1.3}),
    Plot.axisY({anchor: "left", ticks: minors, tickSize: -4, tickFormat: () => "", label: null}),
    Plot.axisY({anchor: "right", ticks: majors, tickSize: -8, tickFormat: () => "", label: null, strokeWidth: 1.3}),
    Plot.axisY({anchor: "right", ticks: minors, tickSize: -4, tickFormat: () => "", label: null})
  ];
}

function monthly(cfg) {
  const months = d3.range(36).map(i => new Date(Date.UTC(1986, 7 + i, 1)));
  const rows = vals => vals.map((v, i) => ({x: months[i], y: v}));
  const interior = d3.range(1, 35);
  const dotted = interior.filter(i => i % 6 !== 0).map(i => months[i]);
  const dashed = interior.filter(i => i % 6 === 0).map(i => months[i]);
  const labMap = new Map(monthLabelIdx.map((k, j) => [+months[k], monthLabels[j]]));
  const svg = Plot.plot({
    width: 1208, height: cfg.height,
    marginLeft: cfg.ml, marginRight: 1208 - cfg.mr, marginTop: 20, marginBottom: cfg.height - 20 - cfg.inner,
    x: {type: "utc", domain: [months[0], months[35]]},
    y: {domain: cfg.yDomain},
    style,
    marks: [
      Plot.ruleX(dotted, {stroke: "#555", strokeWidth: 1, strokeDasharray: "1.3 3"}),
      Plot.ruleX(dashed, {stroke: "#222", strokeWidth: 1.1, strokeDasharray: "7 4"}),
      Plot.line(rows(cfg.isba), {x: "x", y: "y", stroke: BLUE, strokeWidth: 2.6}),
      Plot.line(rows(cfg.exp), {x: "x", y: "y", stroke: RED, strokeWidth: 2.6}),
      Plot.line(rows(cfg.obs), {x: "x", y: "y", stroke: "#000", strokeWidth: 3.6, strokeDasharray: "0.1 8", strokeLinecap: "round"}),
      Plot.frame({stroke: "#222", strokeWidth: 1.3}),
      Plot.axisX({ticks: monthLabelIdx.map(k => months[k]), tickSize: 0, tickPadding: cfg.xPad, tickFormat: d => labMap.get(+d), label: null, fontSize: 20}),
      ...yAxes(cfg.majors, cfg.minors, cfg.fmt),
      Plot.text(["mm/day"], {frameAnchor: "left", rotate: -90, dx: cfg.ylabDx, fontSize: 22, fontWeight: "bold", fontStyle: "italic"})
    ]
  });
  place(svg, cfg.top);
}

function daily(cfg) {
  const t0 = Date.UTC(1986, 7, 1);
  const toDate = d => new Date(t0 + d * 864e5);
  const rows = arr => arr.map(([d, v]) => ({x: toDate(d), y: v}));
  const tickDates = dailyLabelDates.map(s => new Date(s + "T00:00:00Z"));
  const labMap = new Map(tickDates.map((d, j) => [+d, dailyLabels[j]]));
  const svg = Plot.plot({
    width: 1208, height: cfg.height,
    marginLeft: cfg.ml, marginRight: 1208 - cfg.mr, marginTop: 20, marginBottom: cfg.height - 20 - cfg.inner,
    x: {type: "utc", domain: [toDate(0), toDate(1095)]},
    y: {domain: cfg.yDomain},
    style,
    marks: [
      Plot.line(rows(cfg.isba), {x: "x", y: "y", stroke: BLUE, strokeWidth: 1.3}),
      Plot.line(rows(cfg.exp), {x: "x", y: "y", stroke: RED, strokeWidth: 1.3}),
      Plot.line(rows(cfg.obs), {x: "x", y: "y", stroke: "#000", strokeWidth: 2.5, strokeDasharray: "0.1 4.6", strokeLinecap: "round"}),
      Plot.dot(cfg.crosses.map(d => ({x: toDate(d), y: 6.5})), {x: "x", y: "y", symbol: "times", r: 6.5, stroke: "#000", strokeWidth: 2.8}),
      Plot.frame({stroke: "#333", strokeWidth: 1.3}),
      Plot.axisX({ticks: tickDates, tickSize: 0, tickPadding: 12, tickFormat: d => labMap.get(+d), label: null}),
      Plot.axisX({ticks: tickDates.slice(1, -1), tickSize: -6, tickFormat: () => "", label: null, strokeWidth: 1.3}),
      ...yAxes(cfg.majors, cfg.minors, cfg.fmt),
      Plot.text(["mm/day"], {frameAnchor: "left", rotate: -90, dx: cfg.ylabDx, fontSize: 22, fontWeight: "bold", fontStyle: "italic"})
    ]
  });
  place(svg, cfg.top);
}

const fmtInt = d => String(d);
const fmtComma = d => String(d).replace(".", ",");
const r = (a, b, s) => d3.range(Math.round((b - a) / s) + 1).map(i => +(a + i * s).toFixed(2));

monthly({top: 46, height: 318, inner: 258, ml: 171, mr: 1062, yDomain: [0, 4], xPad: 8,
  majors: [0,1,2,3,4], minors: r(0, 4, 0.2), fmt: fmtInt, ylabDx: -40,
  obs: trouMonObs, isba: trouMonIsba, exp: trouMonExp});
daily({top: 400, height: 396, inner: 336, ml: 171, mr: 1062, yDomain: [0, 7.67],
  majors: [0,1,2,3,4,5,6,7], minors: r(0, 7.6, 0.2), fmt: fmtInt, ylabDx: -43,
  obs: trouDayObs, isba: trouDayIsba, exp: trouDayExp, crosses: trouCrossDays});
monthly({top: 861, height: 320, inner: 260, ml: 167, mr: 1059, yDomain: [0.9, 4], xPad: 7,
  majors: [1,1.5,2,2.5,3,3.5,4], minors: r(1, 4, 0.1), fmt: fmtComma, ylabDx: -50,
  obs: vivMonObs, isba: vivMonIsba, exp: vivMonExp});
daily({top: 1216, height: 398, inner: 338, ml: 166, mr: 1059, yDomain: [0, 7],
  majors: [0,1,2,3,4,5,6,7], minors: r(0, 7, 0.2), fmt: fmtInt, ylabDx: -36,
  obs: vivDayObs, isba: vivDayIsba, exp: vivDayExp, crosses: vivCrossDays});

// ---------- TEXT, LEGENDS, FRAME ----------
function addTitle(text, cx, cy) {
  const d = document.createElement("div");
  d.className = "title"; d.textContent = text;
  d.style.left = cx + "px"; d.style.top = cy + "px";
  fig.appendChild(d);
}
addTitle("a)", 125, 35);
addTitle("Time series of monthly mean river discharge at Trouhans", 618, 35);
addTitle("Time series of daily river discharge at Trouhans", 618, 388);
addTitle("b)", 121, 851);
addTitle("Time series of monthly mean river discharge at Viviers", 614, 851);
addTitle("Time series of daily river discharge at Viviers", 613, 1205);

const legendNames = ["Obs", "ISBA", "ISBA-exp"];
function addLegend(left, top, w, h, rowsY, sx1, sx2, tx, thick) {
  const box = document.createElement("div");
  box.className = "lg";
  Object.assign(box.style, {left: left + "px", top: top + "px", width: w + "px", height: h + "px"});
  const cols = ["#000", BLUE, RED];
  legendNames.forEach((name, i) => {
    const s = document.createElementNS("http://www.w3.org/2000/svg", "svg");
    s.setAttribute("width", sx2 - sx1 + 8); s.setAttribute("height", 12);
    s.style.left = (sx1 - 4) + "px"; s.style.top = (rowsY[i] - 6) + "px";
    const ln = document.createElementNS("http://www.w3.org/2000/svg", "line");
    ln.setAttribute("x1", 4); ln.setAttribute("x2", sx2 - sx1 + 4); ln.setAttribute("y1", 6); ln.setAttribute("y2", 6);
    ln.setAttribute("stroke", cols[i]);
    if (i === 0) {
      ln.setAttribute("stroke-width", thick ? 3.6 : 2.2);
      ln.setAttribute("stroke-dasharray", thick ? "0.1 9" : "0.1 5");
      ln.setAttribute("stroke-linecap", "round");
    } else {
      ln.setAttribute("stroke-width", thick ? 2.8 : 1.4);
    }
    s.appendChild(ln); box.appendChild(s);
    const t = document.createElement("span");
    t.textContent = name; t.style.left = tx + "px"; t.style.top = (rowsY[i] - 12) + "px";
    box.appendChild(t);
  });
  fig.appendChild(box);
}
addLegend(188, 89, 150, 83, [16, 40, 64], 8, 47, 57, true);
addLegend(173, 365, 148, 82, [15, 39, 62], 7, 45, 56, false);
addLegend(185, 907, 148, 81, [15, 39, 63], 8, 48, 57, true);
addLegend(185, 1299, 149, 80, [15, 39, 63], 9, 44, 56, false);

// separator and figure border
const sep = document.createElement("div");
sep.className = "abs"; Object.assign(sep.style, {left: "115px", top: "808px", width: "1006px", height: "6px", background: "#000"});
fig.appendChild(sep);
const topLine = document.createElement("div");
topLine.className = "abs"; Object.assign(topLine.style, {left: "9px", top: "7px", width: "1199px", height: "4px", background: "#000"});
fig.appendChild(topLine);
const leftLine = document.createElement("div");
leftLine.className = "abs"; Object.assign(leftLine.style, {left: "9px", top: "7px", width: "4px", height: "1838px", background: "#000"});
fig.appendChild(leftLine);

// caption
const cap = document.createElement("div");
cap.id = "cap";
cap.innerHTML =
  '<div><b>Figure 4.17 - Time series of the observed (black points) and simulated (blue line for</b></div>' +
  '<div><b>ISBA and red line for ISBA-exp) monthly mean and daily river discharges at</b></div>' +
  '<div><b>Trouhans (a) and Viviers (b).</b> Location of these gauging stations is shown in Fig. (4.13).</div>' +
  '<div>Black crosses show the selected storm events for the composite analysis provided in Fig.</div>' +
  '<div class="last">4.18.</div>';
fig.appendChild(cap);
</script>
</body></html>
